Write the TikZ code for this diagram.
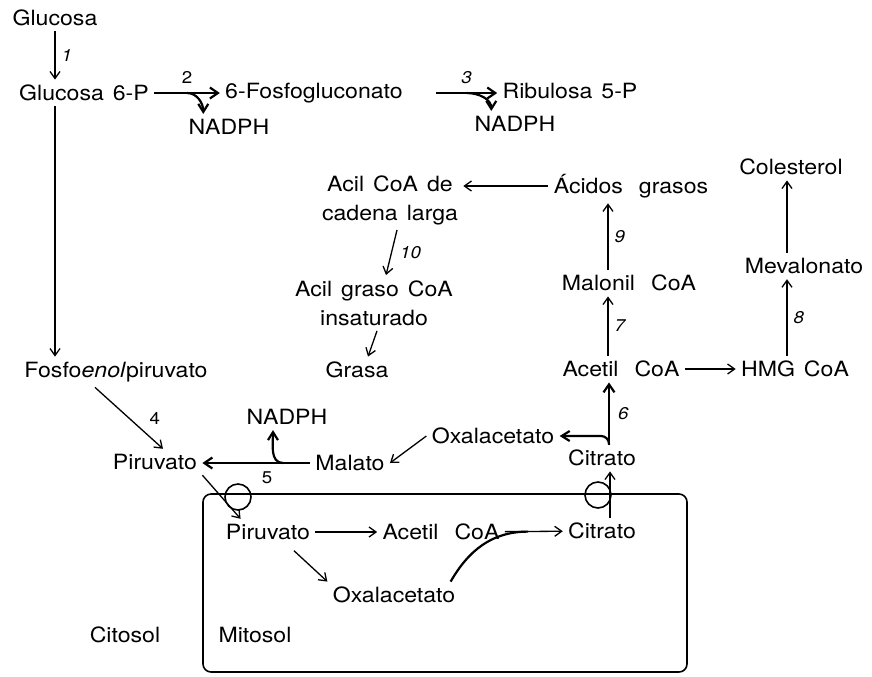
\documentclass[tikz,border=0pt]{standalone}
\usepackage{fontspec}
\setmainfont{TeX Gyre Heros}[FakeStretch=1.1]
\usepackage{tikz}
\usetikzlibrary{arrows.meta, positioning, calc}
\newcommand{\metfont}{\fontsize{10.5}{14.5}\selectfont\spaceskip=4.5pt plus 1pt\relax}
\newcommand{\wgap}{\hspace{8pt}}
\tikzset{
  met/.style={font=\metfont, inner sep=2.5pt, align=center},
  enz/.style={font=\fontsize{8.5}{10}\selectfont\itshape, inner sep=1pt},
  enzup/.style={font=\fontsize{8.5}{10}\selectfont, inner sep=1pt},
  rxn/.style={-{Straight Barb[length=3.5pt,width=5pt]}, line width=0.65pt},
  mainrxn/.style={-{Straight Barb[length=4pt,width=5.5pt]}, line width=1.1pt},
  branch/.style={-{Straight Barb[length=4pt,width=5pt]}, line width=1.1pt},
  joinline/.style={line width=1.1pt},
  carrier/.style={circle, draw, line width=0.8pt, minimum size=13pt, inner sep=0pt},
  membrane/.style={draw, line width=0.8pt, rounded corners=4pt}
}
\begin{document}
\begin{tikzpicture}[x=0.5pt, y=-0.5pt]
  \useasboundingbox (0,0) rectangle (872,676);

  % cytosol
  \node[met] (glc) at (55,18) {Glucosa};
  \node[met] (g6p) at (84,93) {Glucosa 6-P};
  \node[met] (fg6) at (314,93) {6-Fosfogluconato};
  \node[met] (nadphA) at (229,127) {NADPH};
  \node[met] (ru5p) at (570,91) {Ribulosa 5-P};
  \node[met] (nadphB) at (515,124) {NADPH};
  \node[met] (col) at (791,167) {Colesterol};
  \node[met] (acilL) at (390,200) {Acil CoA de\\cadena larga};
  \node[met] (acidos) at (631,186) {Ácidos\wgap grasos};
  \node[met] (acilI) at (374,303) {Acil graso CoA\\insaturado};
  \node[met] (grasa) at (357,370) {Grasa};
  \node[met] (malonil) at (629,283) {Malonil\wgap CoA};
  \node[met] (meval) at (804,266) {Mevalonato};
  \node[met] (acetil) at (621,369) {Acetil\wgap CoA};
  \node[met] (hmg) at (795,369) {HMG CoA};
  \node[met] (pep) at (116,372) {Fosfo\textit{enol}piruvato};
  \node[met] (nadphC) at (287,417) {NADPH};
  \node[met] (oxa) at (493,436) {Oxalacetato};
  \node[met] (pir) at (155,462) {Piruvato};
  \node[met] (malato) at (350,463) {Malato};
  \node[met] (cit) at (602,458) {Citrato};
  \node[met] (citosol) at (125,635) {Citosol};

  % mitochondrion
  \draw[membrane] (203,494) rectangle (687,672);
  \node[carrier] (trPir) at (238,497) {};
  \node[carrier] (trCit) at (598,495) {};
  \node[met] (pirM) at (268,532) {Piruvato};
  \node[met] (acetM) at (441,532) {Acetil\wgap CoA};
  \node[met] (citM) at (602,531) {Citrato};
  \node[met] (oxaM) at (394,595) {Oxalacetato};
  \node[met] (mitosol) at (255,635) {Mitosol};

  % pentose phosphate
  \draw[rxn] (glc) -- (glc |- g6p.north) node[enz, midway, right=2pt] (e1) {1};
  \draw[rxn] (g6p.south -| glc) -- (pep.north -| glc);
  \draw[mainrxn] (g6p.east) -- (fg6.west) node[enzup, midway, above=3pt] (e2) {2};
  \coordinate (b2) at ($(g6p.east)!0.5!(fg6.west)$);
  \draw[branch] (b2) to[out=0, in=90] ($(nadphA.north west)+(20,0)$);
  \coordinate (r3) at ($(fg6.east)+(28,0)$);
  \draw[mainrxn] (r3) -- (r3 -| ru5p.west) node[enz, midway, above=3pt] (e3) {3};
  \coordinate (b3) at ($(r3)!0.5!(r3 -| ru5p.west)$);
  \draw[branch] (b3) to[out=0, in=90] ($(nadphB.north west)+(22,0)$);

  % lipids
  \draw[rxn] (acidos.west) -- (acidos.west -| acilL.east);
  \draw[rxn] ($(acilL.south)+(7,0)$) -- ($(acilI.north)+(12,0)$) node[enz, midway, right=3pt] (e10) {10};
  \draw[rxn] ($(acilI.south)+(3,0)$) -- ($(grasa.north)+(11,0)$);
  \draw[rxn] ($(malonil.north)+(-21,0)$) -- ($(malonil.north |- acidos.south)+(-21,0)$) node[enz, midway, right=2pt] (e9) {9};
  \draw[rxn] ($(acetil.north)+(-13,0)$) -- ($(acetil.north |- malonil.south)+(-13,0)$) node[enz, midway, right=2pt] (e7) {7};
  \draw[rxn] (acetil.east) -- (hmg.west);
  \draw[rxn] ($(hmg.north)+(-8,0)$) -- ($(hmg.north |- meval.south)+(-8,0)$) node[enz, midway, right=2pt] (e8) {8};
  \draw[rxn] ($(meval.north)+(-17,0)$) -- ($(meval.north |- col.south)+(-17,0)$);

  % citrate shuttle
  \draw[mainrxn] ($(cit.north)+(7,0)$) -- ($(cit.north |- acetil.south)+(7,0)$) node[enz, midway, right=3pt] (e6) {6};
  \draw[branch, rounded corners=4pt] ($(cit.north)+(7,0)$) |- (oxa.east);
  \draw[rxn] (oxa.west) -- (malato.east);
  \draw[mainrxn] (malato.west) -- (malato.west -| pir.east) node[enzup, pos=0.4, below=3pt] (e5) {5};
  \coordinate (b5) at ($(malato.west)!0.25!(malato.west -| pir.east)$);
  \draw[branch] (b5) to[out=180, in=-90] ($(nadphC.south)+(-14,0)$);
  \draw[rxn] ($(pep.south)+(-21,0)$) -- ($(pir.north)+(8,0)$) node[enzup, midway, right=9pt] (e4) {4};
  \draw[rxn] (pir.south east) -- ($(pirM.north west)+(20,0)$);
  \draw[rxn] ($(citM.north)+(8,0)$) -- ($(cit.south)+(8,0)$);

  % inside the mitochondrion
  \draw[rxn] (pirM) -- (acetM);
  \draw[rxn] (acetM) -- (citM);
  \coordinate (m1) at ($(acetM.east)!0.4!(citM.west)$);
  \draw[joinline] ($(oxaM.north east)+(-10,0)$) to[out=60, in=180] (m1);
  \draw[rxn, shorten <=4pt] ($(pirM.south)+(20,0)$) -- (oxaM.north west);
\end{tikzpicture}
\end{document}
